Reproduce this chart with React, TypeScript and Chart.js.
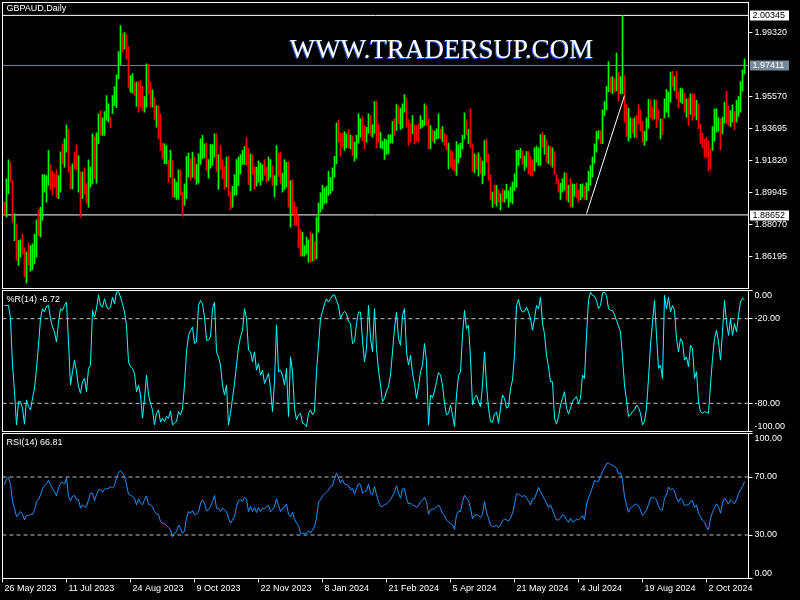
import React, { useEffect, useRef } from 'react';
import { Chart, registerables } from 'chart.js';

Chart.register(...registerables);

// ---------------- data ----------------
const SYMBOL_TITLE = 'GBPAUD,Daily';
const WATERMARK = 'WWW.TRADERSUP.COM';

// Daily bar highs / lows (bar 0 = first visible bar)
const HIGH = [
  1.8940, 1.9077, 1.9188, 1.9172, 1.9067, 1.8872, 1.8813, 1.8715, 1.8719, 1.8751,
  1.8672, 1.8647, 1.8702, 1.8686, 1.8696, 1.8751, 1.8837, 1.8895, 1.8909, 1.9102,
  1.9102, 1.9096, 1.9243, 1.9161, 1.9122, 1.9106, 1.9130, 1.9096, 1.9235, 1.9282,
  1.9311, 1.9393, 1.9366, 1.9149, 1.9165, 1.9233, 1.9276, 1.9213, 1.9118, 1.9116,
  1.9141, 1.9047, 1.9188, 1.9145, 1.9340, 1.9321, 1.9346, 1.9458, 1.9477, 1.9434,
  1.9471, 1.9565, 1.9516, 1.9438, 1.9565, 1.9618, 1.9686, 1.9823, 1.9975, 1.9926,
  1.9934, 1.9922, 1.9852, 1.9682, 1.9694, 1.9643, 1.9643, 1.9647, 1.9653, 1.9618,
  1.9559, 1.9751, 1.9747, 1.9643, 1.9598, 1.9551, 1.9506, 1.9504, 1.9458, 1.9286,
  1.9282, 1.9272, 1.9188, 1.9243, 1.9184, 1.9077, 1.9057, 1.9130, 1.9130, 1.8999,
  1.9047, 1.9208, 1.9227, 1.9194, 1.9233, 1.9204, 1.9161, 1.9223, 1.9311, 1.9331,
  1.9282, 1.9286, 1.9190, 1.9278, 1.9278, 1.9340, 1.9340, 1.9219, 1.9272, 1.9188,
  1.9149, 1.9204, 1.9208, 1.9002, 1.9032, 1.9102, 1.9190, 1.9204, 1.9219, 1.9243,
  1.9266, 1.9319, 1.9256, 1.9223, 1.9217, 1.9145, 1.9145, 1.9180, 1.9170, 1.9159,
  1.9190, 1.9145, 1.9204, 1.9190, 1.9155, 1.9096, 1.9272, 1.9227, 1.9233, 1.9110,
  1.9190, 1.9174, 1.9178, 1.9067, 1.9073, 1.8940, 1.8911, 1.8856, 1.8780, 1.8764,
  1.8686, 1.8735, 1.8719, 1.8768, 1.8754, 1.8706, 1.8852, 1.8934, 1.8995, 1.9038,
  1.9024, 1.9034, 1.9120, 1.9086, 1.9141, 1.9208, 1.9403, 1.9419, 1.9348, 1.9344,
  1.9354, 1.9340, 1.9366, 1.9331, 1.9327, 1.9292, 1.9331, 1.9458, 1.9428, 1.9442,
  1.9389, 1.9379, 1.9458, 1.9448, 1.9395, 1.9530, 1.9532, 1.9395, 1.9350, 1.9297,
  1.9311, 1.9307, 1.9335, 1.9336, 1.9413, 1.9428, 1.9512, 1.9506, 1.9491, 1.9516,
  1.9571, 1.9551, 1.9424, 1.9399, 1.9448, 1.9395, 1.9389, 1.9399, 1.9448, 1.9419,
  1.9516, 1.9506, 1.9428, 1.9389, 1.9364, 1.9356, 1.9370, 1.9458, 1.9370, 1.9383,
  1.9344, 1.9331, 1.9286, 1.9247, 1.9237, 1.9190, 1.9295, 1.9276, 1.9286, 1.9331,
  1.9463, 1.9424, 1.9366, 1.9487, 1.9282, 1.9223, 1.9217, 1.9229, 1.9204, 1.9180,
  1.9301, 1.9311, 1.9223, 1.9102, 1.8999, 1.9038, 1.9038, 1.9012, 1.8989, 1.9018,
  1.9008, 1.9044, 1.9008, 1.9028, 1.9057, 1.9106, 1.9243, 1.9243, 1.9256, 1.9239,
  1.9210, 1.9237, 1.9237, 1.9208, 1.9188, 1.9258, 1.9268, 1.9258, 1.9336, 1.9350,
  1.9331, 1.9305, 1.9268, 1.9268, 1.9258, 1.9237, 1.9102, 1.9077, 1.9051, 1.9077,
  1.9112, 1.9110, 1.9038, 1.9077, 1.9047, 1.9044, 1.9053, 1.9014, 1.9044, 1.9047,
  1.9034, 1.9053, 1.9120, 1.9155, 1.9204, 1.9282, 1.9354, 1.9360, 1.9360, 1.9481,
  1.9530, 1.9618, 1.9764, 1.9672, 1.9676, 1.9663, 1.9813, 1.9700, 1.9676, 2.00345,
  1.9682, 1.9512, 1.9491, 1.9432, 1.9428, 1.9434, 1.9448, 1.9512, 1.9481, 1.9413,
  1.9356, 1.9434, 1.9542, 1.9540, 1.9497, 1.9540, 1.9540, 1.9481, 1.9428, 1.9428,
  1.9545, 1.9600, 1.9585, 1.9702, 1.9706, 1.9676, 1.9706, 1.9585, 1.9608, 1.9604,
  1.9579, 1.9545, 1.9551, 1.9575, 1.9575, 1.9575, 1.9536, 1.9516, 1.9399, 1.9346,
  1.9311, 1.9321, 1.9301, 1.9252, 1.9383, 1.9487, 1.9487, 1.9434, 1.9428, 1.9438,
  1.9526, 1.9590, 1.9501, 1.9477, 1.9510, 1.9471, 1.9536, 1.9559, 1.9647, 1.9715,
  1.9780,
];

const LOW = [
  1.8862, 1.8852, 1.8989, 1.9057, 1.8823, 1.8715, 1.8598, 1.8569, 1.8618, 1.8637,
  1.8500, 1.8465, 1.8569, 1.8536, 1.8544, 1.8579, 1.8618, 1.8745, 1.8735, 1.8833,
  1.8999, 1.8940, 1.9038, 1.9012, 1.8979, 1.9028, 1.8969, 1.8960, 1.8999, 1.9165,
  1.9145, 1.9233, 1.9116, 1.9018, 1.9018, 1.9135, 1.9130, 1.8999, 1.8852, 1.8960,
  1.8989, 1.8934, 1.8911, 1.9028, 1.9047, 1.9077, 1.9051, 1.9282, 1.9331, 1.9331,
  1.9331, 1.9419, 1.9409, 1.9376, 1.9458, 1.9506, 1.9493, 1.9663, 1.9745, 1.9819,
  1.9836, 1.9780, 1.9608, 1.9585, 1.9579, 1.9565, 1.9501, 1.9467, 1.9497, 1.9477,
  1.9467, 1.9497, 1.9575, 1.9497, 1.9497, 1.9424, 1.9379, 1.9311, 1.9243, 1.9194,
  1.9165, 1.9165, 1.9057, 1.9086, 1.8969, 1.8969, 1.8956, 1.8956, 1.8979, 1.8858,
  1.8921, 1.8960, 1.9086, 1.9067, 1.9086, 1.9077, 1.9044, 1.9051, 1.9161, 1.9194,
  1.9200, 1.9126, 1.9081, 1.9139, 1.9155, 1.9204, 1.9120, 1.9014, 1.9130, 1.9077,
  1.9014, 1.9028, 1.8975, 1.8897, 1.8911, 1.8979, 1.8983, 1.9038, 1.9106, 1.9161,
  1.9161, 1.9155, 1.9044, 1.9008, 1.9102, 1.9014, 1.9034, 1.9057, 1.9038, 1.9067,
  1.9096, 1.9057, 1.9067, 1.9086, 1.9038, 1.8969, 1.9038, 1.9090, 1.9047, 1.8999,
  1.9014, 1.9028, 1.8911, 1.8794, 1.8872, 1.8803, 1.8803, 1.8672, 1.8624, 1.8624,
  1.8624, 1.8637, 1.8588, 1.8588, 1.8594, 1.8598, 1.8608, 1.8764, 1.8881, 1.8901,
  1.8930, 1.8936, 1.8979, 1.8989, 1.9008, 1.9086, 1.9165, 1.9292, 1.9210, 1.9262,
  1.9243, 1.9258, 1.9258, 1.9252, 1.9213, 1.9180, 1.9198, 1.9286, 1.9321, 1.9301,
  1.9252, 1.9292, 1.9344, 1.9331, 1.9321, 1.9344, 1.9258, 1.9292, 1.9258, 1.9252,
  1.9190, 1.9219, 1.9223, 1.9286, 1.9286, 1.9331, 1.9360, 1.9399, 1.9366, 1.9374,
  1.9467, 1.9379, 1.9272, 1.9292, 1.9340, 1.9282, 1.9297, 1.9292, 1.9370, 1.9379,
  1.9389, 1.9389, 1.9252, 1.9252, 1.9297, 1.9286, 1.9311, 1.9315, 1.9311, 1.9295,
  1.9272, 1.9243, 1.9135, 1.9145, 1.9131, 1.9122, 1.9096, 1.9170, 1.9200, 1.9252,
  1.9311, 1.9335, 1.9282, 1.9258, 1.9122, 1.9112, 1.9135, 1.9092, 1.9106, 1.9047,
  1.9096, 1.9174, 1.9067, 1.8954, 1.8911, 1.8930, 1.8917, 1.8940, 1.8895, 1.8940,
  1.8940, 1.8960, 1.8911, 1.8940, 1.8930, 1.9008, 1.9028, 1.9155, 1.9198, 1.9161,
  1.9126, 1.9145, 1.9106, 1.9096, 1.9092, 1.9122, 1.9174, 1.9155, 1.9155, 1.9262,
  1.9219, 1.9174, 1.9165, 1.9155, 1.9145, 1.9102, 1.9047, 1.8999, 1.8956, 1.8999,
  1.9012, 1.8950, 1.8940, 1.8911, 1.8911, 1.8973, 1.8965, 1.8940, 1.8954, 1.8969,
  1.8956, 1.8954, 1.9008, 1.9038, 1.9086, 1.9169, 1.9233, 1.9311, 1.9282, 1.9282,
  1.9448, 1.9481, 1.9588, 1.9585, 1.9575, 1.9585, 1.9594, 1.9532, 1.9575, 1.9575,
  1.9409, 1.9325, 1.9297, 1.9317, 1.9344, 1.9321, 1.9317, 1.9399, 1.9356, 1.9292,
  1.9272, 1.9301, 1.9372, 1.9434, 1.9419, 1.9428, 1.9376, 1.9428, 1.9311, 1.9336,
  1.9434, 1.9467, 1.9438, 1.9526, 1.9618, 1.9594, 1.9545, 1.9493, 1.9526, 1.9516,
  1.9467, 1.9438, 1.9389, 1.9454, 1.9419, 1.9444, 1.9422, 1.9370, 1.9282, 1.9258,
  1.9204, 1.9200, 1.9122, 1.9135, 1.9243, 1.9297, 1.9350, 1.9356, 1.9247, 1.9340,
  1.9403, 1.9399, 1.9389, 1.9383, 1.9409, 1.9364, 1.9409, 1.9442, 1.9467, 1.9590,
  1.9692,
];

// bar direction: g = up bar (close > open), r = down bar
const DIRECTION =
  'rggrrgrggr' + 'rgrggggrgg' + 'gggrrrrggr' + 'ggrrgrrgrg' + 'rrgggrggrg' +
  'gggrgggggr' + 'grrggrgrrr' + 'ggrrgrgrrr' + 'ggrgrgggrr' + 'gggrgrgggg' +
  'grggggrgrr' + 'rgrrgggggg' + 'grrgrrgggg' + 'rrggrggrrg' + 'ggrgrrrrrg' +
  'gggrgrgggg' + 'gggggggrrr' + 'ggrgrggggr' + 'rggrggrrgg' + 'gggggrgrgg' +
  'grrrgrrrgg' + 'grrgrgggrg' + 'rrgrrrgggg' + 'grgrrgrgrg' + 'grrrgrgrgr' +
  'gggggggggr' + 'ggrrrggggr' + 'grgrgrrrgg' + 'grgrggrrgg' + 'rgggggggrg' +
  'gggrgrgrgg' + 'rrggrgrrrr' + 'gggrrgrrgr' + 'ggggrgrrgg' + 'rgrgrrgrrr' +
  'rrrrggggrg' + 'grrggrgggg' + 'g';

// Williams %R(14)
const WPR = [
  -10.6, -10.6, -10.6, -20, -52.9, -71.8, -95.3, -78.8, -78.8, -83.5,
  -94.8, -77.6, -82.4, -84.7, -76.5, -69.4, -55.3, -38.8, -20, -12.9,
  -15.3, -11, -10.6, -20, -25.9, -29.4, -36.5, -22.4, -12.9, -14.1,
  -10.6, -8.2, -36.5, -67.1, -57.6, -49.4, -57.6, -68.2, -72.9, -64.7,
  -62.4, -71.8, -55.3, -52.9, -14.1, -18.8, -12.9, -3.1, -10.6, -11.8,
  -5.9, -11, -13.4, -11.8, -4.7, -9.4, -1.2, -0.7, -4.7, -9.4,
  -15.3, -24.7, -50.6, -54.1, -55.3, -58.8, -71.8, -67.1, -74.1, -90.6,
  -76.5, -60, -74.1, -80, -84.7, -95.3, -87.1, -84.7, -93.4, -90.6,
  -92.9, -89.4, -90.6, -85.4, -95.3, -94.1, -92.9, -85.9, -88.2, -83.5,
  -67.1, -43.5, -31.8, -28.2, -25.9, -37.6, -36.5, -10.6, -7.1, -9.4,
  -18.8, -35.3, -35.3, -32.9, -12.9, -8.2, -43.5, -47.1, -52.9, -67.1,
  -74.1, -67.1, -95.3, -87.1, -76.5, -65.9, -52.9, -40, -32.9, -28.2,
  -12.9, -20, -42.4, -43.5, -50.6, -43.5, -56.5, -51.8, -60, -56.5,
  -65.9, -62.4, -58.8, -69.4, -85.9, -64.7, -24.7, -57.6, -56.5, -60,
  -67.1, -55.3, -89.4, -47.1, -57.6, -83.5, -91.8, -88.2, -87.1, -94.1,
  -94.8, -96.5, -87.1, -84.7, -88.2, -85.9, -57.6, -38.8, -20, -14.8,
  -9.4, -5.9, -8.2, -5.9, -3.5, -3.1, -7.1, -11, -20, -16.5,
  -14.8, -16.5, -21.9, -23.5, -37.6, -36.5, -23.5, -15.3, -15.3, -35.3,
  -50.6, -41.2, -10.6, -34.1, -43.5, -12.9, -41.2, -56.5, -67.1, -78.8,
  -76.5, -71.3, -68.2, -60, -43.5, -27.1, -15.3, -34.1, -38.8, -17.6,
  -12.9, -43.5, -52.9, -45.9, -58.8, -65.9, -76.5, -68.2, -57.6, -52.9,
  -37.6, -50.6, -95.3, -74.1, -76, -71.3, -64.7, -58.2, -60, -67.1,
  -80, -88.2, -87.1, -81.2, -88.2, -96.5, -74.1, -60.5, -57.6, -31.8,
  -14.1, -27.1, -24.7, -48.2, -81.2, -76.5, -74.1, -78.8, -82.4, -67.1,
  -43.5, -67.1, -83.5, -92.9, -93.4, -87.6, -86.2, -94.1, -83.5, -74.1,
  -76.5, -83.5, -82.4, -69.4, -63.5, -45.9, -10.6, -6.4, -12.9, -15.3,
  -14.8, -11.8, -15.3, -20, -28.2, -20, -10.6, -12.9, -4.7, -23.5,
  -30.6, -45.9, -54.1, -64.7, -64.7, -90.6, -94.8, -89.4, -81.2, -76.5,
  -71.8, -83.5, -87.6, -83.5, -78.8, -76.5, -75.3, -80, -76.5, -60,
  -62.4, -31.8, -7.1, -1.2, -3.5, -4, -7.1, -12.9, -10.6, -1.6,
  -1.2, -3.5, -12.9, -14.1, -14.1, -17.2, -21.2, -25.2, -29.4, -47.1,
  -67.1, -77.6, -89.4, -88.2, -85.9, -84.7, -81.2, -83.1, -87.1, -95.3,
  -92.9, -83.5, -62.4, -38.8, -22.4, -7.1, -31.8, -55.3, -52.9, -62.4,
  -3.5, -12.9, -4.7, -15.3, -10.6, -14.1, -34.1, -43.5, -34.1, -36.5,
  -49.4, -47.1, -54.1, -38.8, -41.2, -62.4, -57.6, -78.8, -85.9, -87.1,
  -85.9, -86.4, -87.1, -67.1, -48.2, -34.1, -28.2, -36.5, -49.4, -29.4,
  -7.1, -22.4, -31.8, -20, -31.8, -23.5, -29.4, -17.6, -8.2, -5.4,
  -6.72,
];

// RSI(14)
const RSI = [
  64.7, 68.6, 69.8, 64.7, 53.1, 48.5, 42.7, 44.3, 46.2, 44.3,
  40.4, 43.4, 43.4, 44.3, 44.3, 47.3, 53.1, 54.3, 57.7, 61.9,
  64, 65.4, 67.7, 64.7, 61.9, 59.6, 57, 62.4, 65.8, 66.5,
  65.1, 69.3, 56.6, 53.6, 56.6, 57.3, 54.3, 54.3, 48.5, 50.8,
  49.2, 49.7, 54.3, 58.9, 58.9, 53.6, 57.7, 61.2, 61.2, 59.6,
  61.7, 61.9, 61.9, 63.5, 62.4, 64, 69.3, 72.8, 74.4, 72.5,
  70.5, 64.7, 58.2, 57.3, 56.6, 55.4, 50.8, 55, 52, 50.8,
  54.3, 57, 51.3, 50.8, 49.4, 46.2, 44.3, 44.3, 39.2, 38.1,
  37.9, 36.5, 35.1, 33.5, 28.8, 31.2, 32.3, 36.9, 34.6, 31.2,
  32.8, 41.6, 46.2, 45, 46.9, 43.9, 44.6, 45.7, 52, 54.3,
  52, 46.6, 47.3, 49.7, 53.1, 57.3, 48.5, 48.5, 46.2, 48.5,
  47.3, 46.2, 41.6, 38.1, 40.4, 42.7, 49.7, 53.6, 54.3, 53.1,
  55.9, 54.3, 46.2, 49.7, 46.2, 48.9, 45.5, 48.9, 46.2, 48.5,
  48, 49.7, 50.3, 46.2, 47.3, 49.7, 55, 50.3, 46.2, 48.5,
  49.2, 51.3, 44.3, 42.7, 45.7, 40.9, 38.3, 36.5, 31.2, 31.2,
  31.2, 31.2, 33, 31.2, 33.5, 35.8, 41.6, 52.7, 54.3, 56.8,
  58.2, 59.6, 61, 63.5, 64, 68.8, 72.8, 69.3, 65.8, 68.2,
  65.1, 64.7, 64.2, 61.2, 61.9, 58.2, 61.9, 65.4, 64.7, 58.9,
  60.1, 60.5, 65.1, 58.9, 57.7, 63.5, 57.7, 53.1, 49.7, 49.7,
  50.8, 51.5, 52.7, 54.3, 57, 59.6, 64, 58.9, 55.4, 61.7,
  61.9, 55.4, 51.3, 52, 50.8, 50.3, 49, 50.3, 53.1, 54,
  55.9, 53.1, 44.3, 47.3, 47.8, 48, 49.4, 50.6, 48.5, 44.8,
  43.4, 40.4, 39, 38.1, 36.9, 33.9, 43.9, 46.2, 46.2, 53.1,
  57.3, 55.4, 53.6, 48.5, 41.1, 43.9, 43.9, 43.4, 42, 44.3,
  53.1, 45.7, 41.6, 36.9, 35.8, 35.8, 36.9, 35.1, 36.9, 39.7,
  41.1, 40.4, 39.7, 41.6, 45, 50.8, 58.2, 58.4, 57, 56.6,
  57.3, 55.4, 53.6, 50.8, 55, 55, 58.9, 62.8, 60.1, 57.3,
  54.7, 52, 49, 50.8, 47.3, 43.4, 40.4, 40.4, 41.6, 43.9,
  43.2, 40.4, 38.6, 41.6, 39.2, 39.7, 40.9, 40.4, 41.6, 43.4,
  40.4, 50.8, 55.9, 58.9, 63.1, 67.5, 67, 67, 70.5, 73.9,
  76.2, 79.2, 79.7, 78.6, 78.1, 77.2, 76.2, 72.1, 72.8, 68.2,
  56.6, 50.8, 45.7, 48.5, 49.9, 50.8, 51.5, 50.1, 47.3, 43.4,
  45, 47.3, 50.8, 55.4, 55.9, 55.4, 54.3, 49.7, 47.3, 47.3,
  55.4, 57.7, 63.1, 61.2, 62.1, 60.3, 55.4, 52.7, 55.4, 54,
  50.3, 50.8, 50.8, 53.1, 53.6, 49, 50.8, 45, 42.7, 40.2,
  38.8, 35.5, 33.5, 41.6, 45.7, 49, 51.5, 49.7, 45, 52,
  55.4, 53.6, 51.3, 54.3, 52.7, 51.7, 54.3, 58.4, 61.2, 63.5,
  66.81,
];

const WPR_LAST = '-6.72';
const RSI_LAST = '66.81';

// axes / levels
const PRICE_MIN = 1.8434;
const PRICE_MAX = 2.011;
const PRICE_TICKS = [1.9932, 1.9557, 1.93695, 1.9182, 1.89945, 1.8807, 1.86195];
const HLINE_TOP = 2.00345;
const HLINE_BOTTOM = 1.88652;
const BID = 1.97411;
const TRENDLINE = [
  { x: 291, y: 1.8872 },
  { x: 310, y: 1.9565 },
];
const WPR_TICKS = [0, -20, -80, -100];
const WPR_LEVELS = [-20, -80];
const RSI_TICKS = [100, 70, 30, 0];
const RSI_LEVELS = [70, 30];
const DATE_LABELS = [
  '26 May 2023', '11 Jul 2023', '24 Aug 2023', '9 Oct 2023', '22 Nov 2023', '8 Jan 2024',
  '21 Feb 2024', '5 Apr 2024', '21 May 2024', '4 Jul 2024', '19 Aug 2024', '2 Oct 2024',
];
const DATE_BARS = [-1, 31, 63, 95, 127, 159, 191, 223, 255, 287, 319, 351];

// ---------------- styling ----------------
const X_MIN = -1;
const X_MAX = 372;
const WHITE = '#ffffff';
const UP = '#00ff00';
const DOWN = '#ff0000';
const BID_COLOR = '#778899';
const LEVEL_COLOR = '#c0c0c0';
const FONT_FAMILY = '"Liberation Sans", Arial, sans-serif';
const FONT = { family: FONT_FAMILY, size: 9 };
const AXIS_W = 51.5;

const framePlugin = {
  id: 'frame',
  afterDraw(chart: any) {
    const { ctx, chartArea: a } = chart;
    ctx.save();
    ctx.strokeStyle = WHITE;
    ctx.lineWidth = 1;
    ctx.strokeRect(a.left, a.top, a.right - a.left, a.bottom - a.top);
    ctx.restore();
  },
};

const titlePlugin = {
  id: 'panelTitle',
  afterDraw(chart: any, _args: any, opts: any) {
    if (!opts || !opts.text) return;
    const { ctx, chartArea: a } = chart;
    ctx.save();
    ctx.font = `9px ${FONT_FAMILY}`;
    ctx.fillStyle = WHITE;
    ctx.textAlign = 'left';
    ctx.textBaseline = 'middle';
    ctx.fillText(opts.text, a.left + 4, a.top + opts.dy);
    ctx.restore();
  },
};

const watermarkPlugin = {
  id: 'watermark',
  beforeDatasetsDraw(chart: any, _args: any, opts: any) {
    if (!opts || !opts.text) return;
    const { ctx } = chart;
    const xs = chart.scales.x;
    const ys = chart.scales.y;
    const x = xs.getPixelForValue(opts.atBar);
    const y = ys.getPixelForValue(opts.atPrice);
    ctx.save();
    ctx.font = `27px "Liberation Serif", "Times New Roman", serif`;
    ctx.textAlign = 'center';
    ctx.textBaseline = 'alphabetic';
    ctx.fillStyle = '#2a5fd8';
    ctx.fillText(opts.text, x - 1, y + 1);
    ctx.fillStyle = WHITE;
    ctx.fillText(opts.text, x, y);
    ctx.restore();
  },
};

const priceBoxPlugin = {
  id: 'priceBoxes',
  afterDraw(chart: any, _args: any, opts: any) {
    if (!opts || !opts.boxes) return;
    const { ctx } = chart;
    const s = chart.scales.y;
    ctx.save();
    ctx.font = `9px ${FONT_FAMILY}`;
    ctx.textAlign = 'left';
    ctx.textBaseline = 'middle';
    for (const b of opts.boxes) {
      const y = Math.round(s.getPixelForValue(b.value));
      ctx.fillStyle = b.bg;
      ctx.fillRect(s.left + 1.5, y - 4.5, 39, 10);
      ctx.fillStyle = b.fg;
      ctx.fillText(b.value.toFixed(5), s.left + 4, y + 0.5);
    }
    ctx.restore();
  },
};

const clampedLabelsPlugin = {
  id: 'clampedLabels',
  afterDraw(chart: any, _args: any, opts: any) {
    if (!opts || !opts.values) return;
    const { ctx, chartArea: a } = chart;
    const s = chart.scales.y;
    ctx.save();
    ctx.font = `9px ${FONT_FAMILY}`;
    ctx.fillStyle = WHITE;
    ctx.textAlign = 'left';
    ctx.textBaseline = 'middle';
    for (const v of opts.values) {
      let y = s.getPixelForValue(v);
      y = Math.min(Math.max(y, a.top + 5), a.bottom - 5);
      ctx.fillText(v.toFixed(2), s.left + 6, y);
    }
    ctx.restore();
  },
};

function hline(value: number, color: string, dash: number[] = [], order = 3) {
  return {
    type: 'line' as const,
    data: [
      { x: X_MIN, y: value },
      { x: X_MAX, y: value },
    ],
    borderColor: color,
    borderWidth: 1,
    borderDash: dash,
    pointRadius: 0,
    order,
  };
}

function rightAxis(min: number, max: number, ticks: number[], showLabels: boolean) {
  return {
    position: 'right' as const,
    min,
    max,
    afterBuildTicks: (s: any) => {
      s.ticks = ticks.map((v) => ({ value: v }));
    },
    afterFit: (s: any) => {
      s.width = AXIS_W;
      s.paddingTop = 0;
      s.paddingBottom = 0;
    },
    ticks: {
      display: showLabels,
      color: WHITE,
      font: FONT,
      padding: 2,
      autoSkip: false,
      callback: (v: any) => Number(v).toFixed(5),
    },
    grid: { drawOnChartArea: false, drawTicks: true, tickLength: 4, tickColor: WHITE },
    border: { display: true, color: WHITE },
  };
}

function hiddenX() {
  return { type: 'linear' as const, min: X_MIN, max: X_MAX, offset: false, display: false };
}

function priceConfig(): any {
  const bars = HIGH.map((h, i) => ({ x: i, y: [LOW[i], h] }));
  const colors = HIGH.map((_, i) => (DIRECTION[i] === 'g' ? UP : DOWN));
  return {
    type: 'bar',
    data: {
      datasets: [
        {
          type: 'bar',
          data: bars,
          backgroundColor: colors,
          borderWidth: 0,
          barThickness: 1,
          order: 2,
        },
        hline(HLINE_TOP, WHITE),
        hline(HLINE_BOTTOM, WHITE),
        hline(BID, BID_COLOR),
        {
          type: 'line',
          data: TRENDLINE,
          borderColor: WHITE,
          borderWidth: 1,
          pointRadius: 0,
          order: 1,
        },
      ],
    },
    options: {
      animation: false,
      responsive: false,
      devicePixelRatio: 1,
      layout: { padding: { left: 2.5, top: 2.5, right: 0, bottom: 600 - 288.5 } },
      plugins: {
        legend: { display: false },
        tooltip: { enabled: false },
        panelTitle: { text: SYMBOL_TITLE, dy: 6.5 },
        watermark: { text: WATERMARK, atBar: 218.5, atPrice: 1.9783 },
        priceBoxes: {
          boxes: [
            { value: HLINE_TOP, bg: WHITE, fg: '#000000' },
            { value: BID, bg: BID_COLOR, fg: WHITE },
            { value: HLINE_BOTTOM, bg: WHITE, fg: '#000000' },
          ],
        },
      },
      scales: {
        x: hiddenX(),
        y: rightAxis(PRICE_MIN, PRICE_MAX, PRICE_TICKS, true),
      },
    },
    plugins: [framePlugin, titlePlugin, watermarkPlugin, priceBoxPlugin],
  };
}

function oscConfig(
  values: number[],
  color: string,
  min: number,
  max: number,
  ticks: number[],
  levels: number[],
  title: string,
  top: number,
  bottom: number,
  withDates: boolean,
): any {
  const xScale: any = withDates
    ? {
        type: 'linear',
        min: X_MIN,
        max: X_MAX,
        offset: false,
        afterBuildTicks: (s: any) => {
          s.ticks = DATE_BARS.map((v) => ({ value: v }));
        },
        afterFit: (s: any) => {
          s.height = 600 - bottom;
          s.paddingLeft = 0;
          s.paddingRight = 0;
        },
        ticks: {
          color: WHITE,
          font: FONT,
          autoSkip: false,
          maxRotation: 0,
          minRotation: 0,
          align: 'start',
          labelOffset: 2,
          padding: 1,
          callback: (v: any) => {
            const k = DATE_BARS.indexOf(Number(v));
            return k >= 0 ? DATE_LABELS[k] : '';
          },
        },
        grid: { drawOnChartArea: false, drawTicks: true, tickLength: 4, tickColor: WHITE },
        border: { display: true, color: WHITE },
      }
    : hiddenX();
  return {
    type: 'line',
    data: {
      datasets: [
        {
          data: values.map((v, i) => ({ x: i, y: v })),
          borderColor: color,
          borderWidth: 1,
          pointRadius: 0,
          tension: 0,
          order: 1,
        },
        ...levels.map((l) => hline(l, LEVEL_COLOR, [4, 3], 2)),
      ],
    },
    options: {
      animation: false,
      responsive: false,
      devicePixelRatio: 1,
      layout: {
        padding: { left: 2.5, top, right: 0, bottom: withDates ? 0 : 600 - bottom },
      },
      plugins: {
        legend: { display: false },
        tooltip: { enabled: false },
        panelTitle: { text: title, dy: 9 },
        clampedLabels: { values: ticks },
      },
      scales: {
        x: xScale,
        y: rightAxis(min, max, ticks, false),
      },
    },
    plugins: [framePlugin, titlePlugin, clampedLabelsPlugin],
  };
}

export default function App() {
  const priceRef = useRef<HTMLCanvasElement>(null);
  const wprRef = useRef<HTMLCanvasElement>(null);
  const rsiRef = useRef<HTMLCanvasElement>(null);

  useEffect(() => {
    const charts: Chart[] = [];
    if (priceRef.current) charts.push(new Chart(priceRef.current, priceConfig()));
    if (wprRef.current)
      charts.push(
        new Chart(
          wprRef.current,
          oscConfig(WPR, '#00ffff', -100, 0, WPR_TICKS, WPR_LEVELS, `%R(14) ${WPR_LAST}`, 290.5, 431.5, false),
        ),
      );
    if (rsiRef.current)
      charts.push(
        new Chart(
          rsiRef.current,
          oscConfig(RSI, '#1e90ff', 0, 100, RSI_TICKS, RSI_LEVELS, `RSI(14) ${RSI_LAST}`, 433.5, 578.5, true),
        ),
      );
    return () => charts.forEach((c) => c.destroy());
  }, []);

  const canvasStyle: React.CSSProperties = {
    position: 'absolute',
    left: 0,
    top: 0,
    width: 800,
    height: 600,
  };

  return (
    <div
      style={{
        position: 'fixed',
        left: 0,
        top: 0,
        width: 800,
        height: 600,
        background: '#000000',
        overflow: 'hidden',
      }}
    >
      <canvas ref={priceRef} width={800} height={600} style={canvasStyle} />
      <canvas ref={wprRef} width={800} height={600} style={canvasStyle} />
      <canvas ref={rsiRef} width={800} height={600} style={canvasStyle} />
    </div>
  );
}
